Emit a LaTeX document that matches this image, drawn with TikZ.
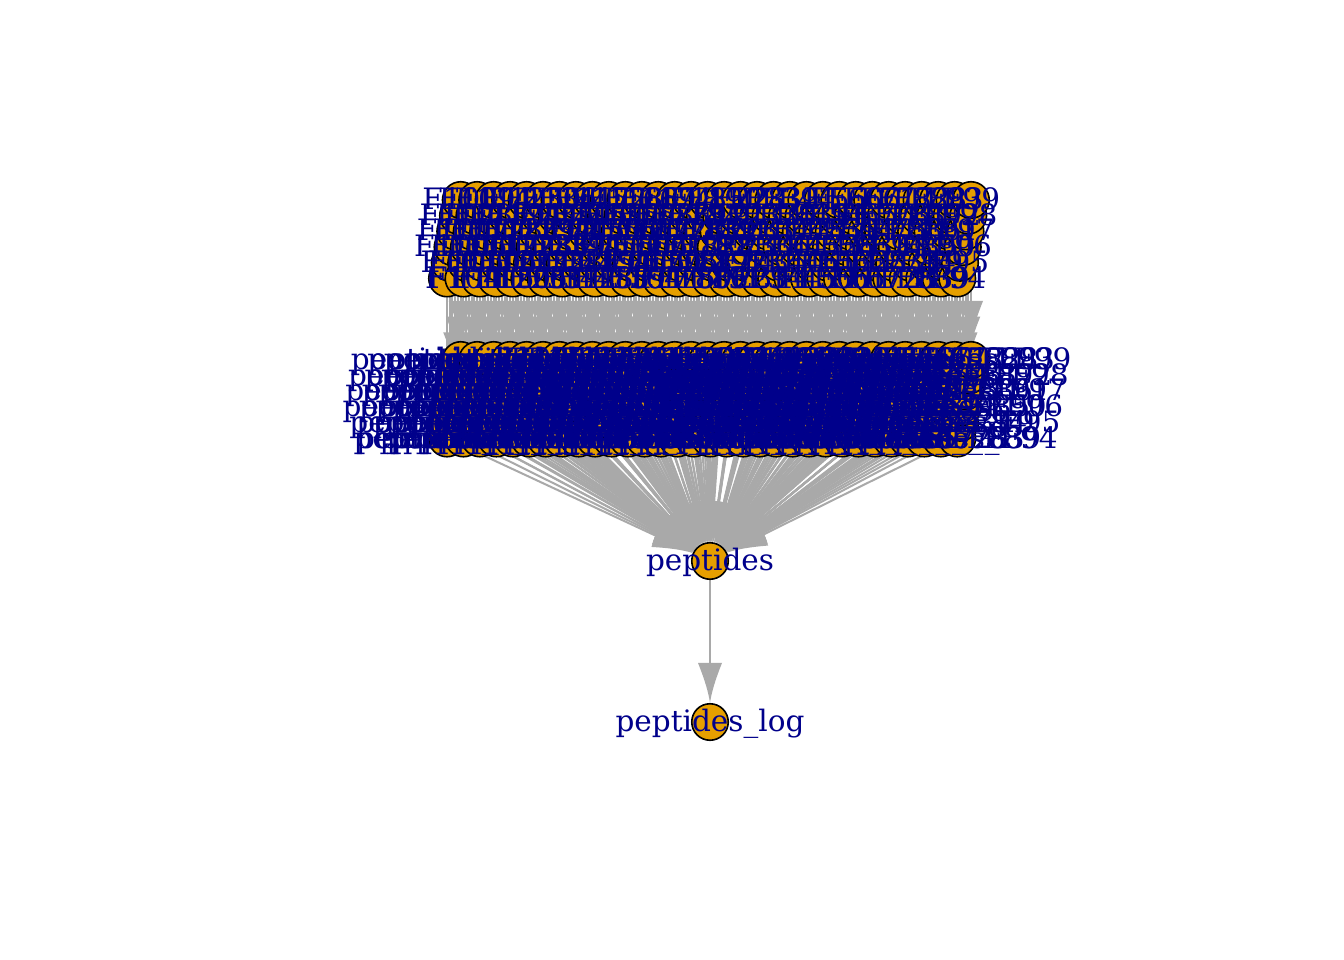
\documentclass[tikz,border=0pt]{standalone}
\usepackage{fontspec}
\newfontfamily\qfont{DejaVu Serif}
\usetikzlibrary{arrows.meta}
\pgfdeclarelayer{edges}
\pgfdeclarelayer{labels}
\pgfsetlayers{edges,main,labels}
\definecolor{vorange}{HTML}{E69F00}
\definecolor{lblue}{HTML}{00008B}
\definecolor{egray}{HTML}{A9A9A9}
\pgfdeclarearrow{
  name = IGtip,
  parameters = {\the\pgfarrowlength,\the\pgfarrowwidth},
  setup code = {
    \pgfarrowssettipend{0pt}
    \pgfarrowssetlineend{-.6\pgfarrowlength}
    \pgfarrowssetbackend{-\pgfarrowlength}
    \pgfarrowssetvisualbackend{-\pgfarrowlength}
    \pgfarrowshullpoint{0pt}{0pt}
    \pgfarrowshullpoint{-\pgfarrowlength}{.5\pgfarrowwidth}
    \pgfarrowshullpoint{-\pgfarrowlength}{-.5\pgfarrowwidth}
    \pgfarrowssavethe\pgfarrowlength
    \pgfarrowssavethe\pgfarrowwidth
  },
  drawing code = {
    \pgfpathmoveto{\pgfqpoint{0pt}{0pt}}
    \pgfpathcurveto{\pgfqpoint{-.25\pgfarrowlength}{.06\pgfarrowwidth}}{\pgfqpoint{-.55\pgfarrowlength}{.2\pgfarrowwidth}}{\pgfqpoint{-\pgfarrowlength}{.5\pgfarrowwidth}}
    \pgfpathlineto{\pgfqpoint{-\pgfarrowlength}{-.5\pgfarrowwidth}}
    \pgfpathcurveto{\pgfqpoint{-.55\pgfarrowlength}{-.2\pgfarrowwidth}}{\pgfqpoint{-.25\pgfarrowlength}{-.06\pgfarrowwidth}}{\pgfqpoint{0pt}{0pt}}
    \pgfpathclose
    \pgfusepathqfill
  },
  defaults = {length = 40pt, width = 24pt}
}
\newcount\qi
\newcommand\qnode[1]{%
  \pgfmathsetmacro\qx{447+\the\qi*2.7435}%
  \pgfmathtruncatemacro\qlev{5-mod(\the\qi,6)}%
  \pgfmathsetmacro\qyt{200+15.7*\qlev}%
  \pgfmathsetmacro\qyl{360+15.7*\qlev}%
  \node[vtx] (T#1) at (\qx,\qyt) {};
  \node[vtx] (L#1) at (\qx,\qyl) {};
  \begin{pgfonlayer}{edges}
    \draw[conn] (T#1) -- (L#1);
    \draw[conn] (L#1) -- (P);
  \end{pgfonlayer}
  \begin{pgfonlayer}{labels}
    \node[lbl] (tT#1) at ([yshift=-9.5pt]T#1.center) {F#1};
    \node[lbl] (tL#1) at ([yshift=-9.5pt]L#1.center) {peptides\_F#1};
  \end{pgfonlayer}
  \global\advance\qi by 1\relax
}
\begin{document}
\begin{tikzpicture}[x=1pt,y=-1pt,
  vtx/.style={circle, draw=black, line width=1.6pt, fill=vorange, minimum size=36.5pt, inner sep=0pt},
  conn/.style={draw=egray, line width=2pt, -{IGtip}},
  lbl/.style={text=lblue, font=\qfont\fontsize{29.5pt}{30pt}\selectfont, inner sep=0pt, anchor=base}]
\useasboundingbox (0,0) rectangle (1344,960);
\begin{pgfonlayer}{edges}
  \fill[white] (0,0) rectangle (1344,960);
\end{pgfonlayer}
\node[vtx] (P) at (710,561) {};
\node[vtx] (PL) at (710,722) {};
\begin{pgfonlayer}{edges}
  \draw[conn] (P) -- (PL);
\end{pgfonlayer}
\foreach \a in {1,...,9}{
  \qnode{\a}
  \foreach \b in {0,...,9}{
    \qnode{\a\b}
    \ifnum\a=1
      \foreach \c in {0,...,9}{
        \ifnum\numexpr 100+\b*10+\c\relax<193 \qnode{1\b\c}\fi
      }
    \fi
  }
}
\begin{pgfonlayer}{labels}
  \node[lbl] (tP) at ([yshift=-9.5pt]P.center) {peptides};
  \node[lbl] (tPL) at ([yshift=-9.5pt]PL.center) {peptides\_log};
\end{pgfonlayer}
\end{tikzpicture}
\end{document}
